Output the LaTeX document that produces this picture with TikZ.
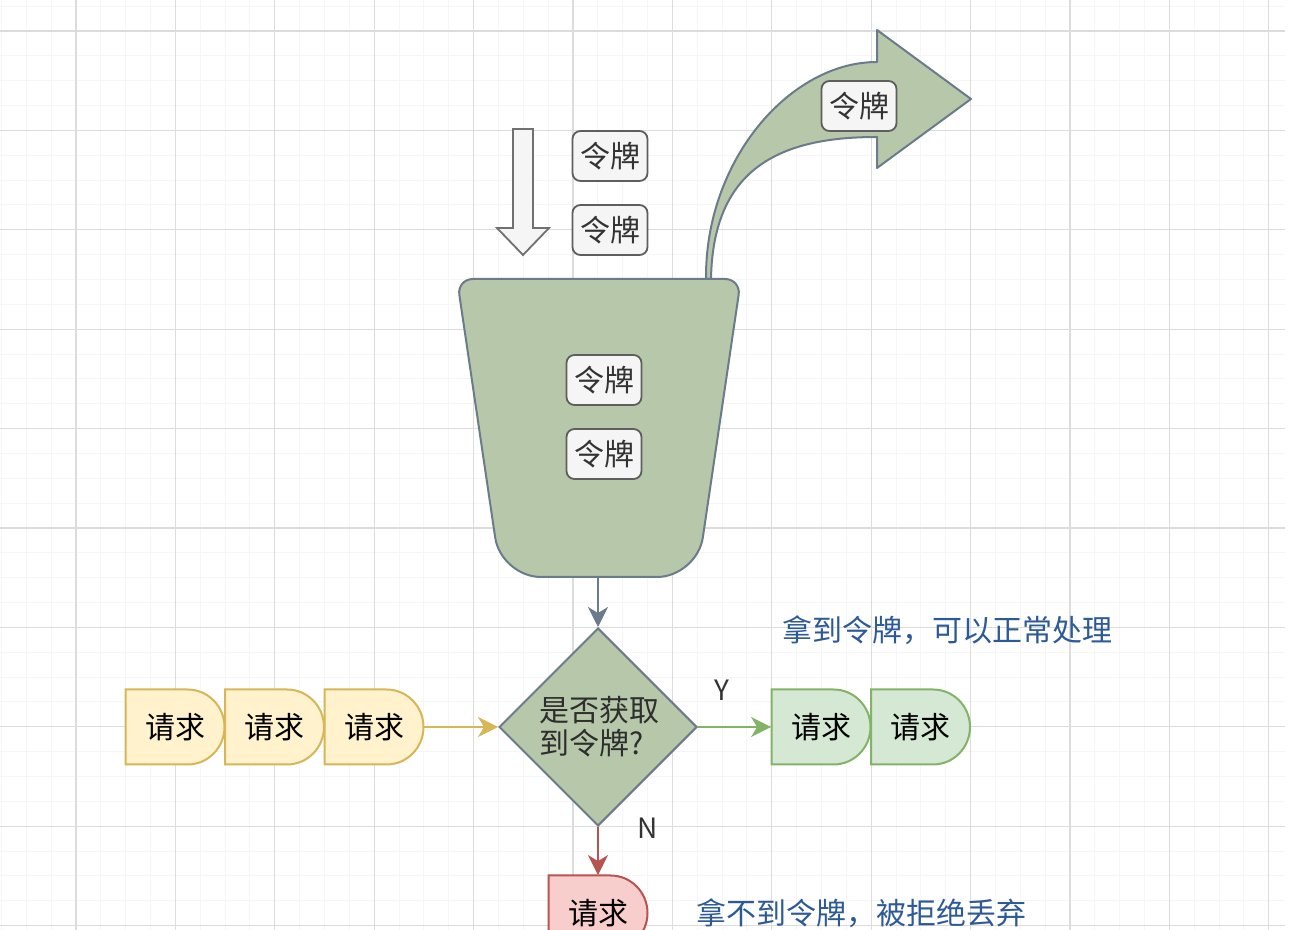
\documentclass[tikz,border=0pt]{standalone}
\usepackage{fontspec}
\newfontfamily\cjk{Noto Sans CJK SC}
\usetikzlibrary{arrows.meta,shapes.geometric}
\definecolor{gmaj}{HTML}{DCDCDC}
\definecolor{gmin}{HTML}{F6F6F6}
\definecolor{sage}{HTML}{B6C8A9}
\definecolor{slate}{HTML}{6C7B8B}
\definecolor{tokfill}{HTML}{F5F5F5}
\definecolor{tokdraw}{HTML}{5E5E5E}
\definecolor{txt}{HTML}{333333}
\definecolor{yfill}{HTML}{FFF2CC}
\definecolor{ydraw}{HTML}{D6B656}
\definecolor{gfill}{HTML}{D5E8D4}
\definecolor{gdraw}{HTML}{82B366}
\definecolor{rfill}{HTML}{F8CECC}
\definecolor{rdraw}{HTML}{B85450}
\definecolor{blu}{HTML}{2D5A97}
\definecolor{darrow}{HTML}{707070}
\newcommand\reqshape[4]{%
  \draw[#4] (#2-49.5,#3-37.5) -- (#2+12.5,#3-37.5)
    arc[start angle=90,end angle=-90,x radius=18.5pt,y radius=18.75pt]
    -- (#2-49.5,#3+37.5) -- cycle;
  \node[reqtext] (#1) at (#2,#3) {请求};}
\begin{document}
\begin{tikzpicture}[x=0.5pt,y=-0.5pt,
  cjkf/.style={font=\cjk\fontsize{15}{16.5}\selectfont},
  token/.style={cjkf, draw=tokdraw, fill=tokfill, rounded corners=4pt, line width=0.9pt,
    minimum width=37.5pt, minimum height=25pt, inner sep=0pt, text=txt},
  reqtext/.style={cjkf, text=black, minimum width=49.5pt, minimum height=37.5pt, inner sep=0pt},
  reqY/.style={fill=yfill, draw=ydraw, line width=1pt},
  reqG/.style={fill=gfill, draw=gdraw, line width=1pt},
  reqR/.style={fill=rfill, draw=rdraw, line width=1pt},
  conn/.style={line width=1pt, -{Stealth[length=10pt,width=10pt,inset=3pt]}},
  note/.style={cjkf, text=blu, anchor=west, inner sep=0pt},
  yn/.style={font=\cjk\fontsize{14}{16}\selectfont, text=txt, inner sep=0pt},
  greenshape/.style={fill=sage, draw=slate, line width=1pt, line join=round}
]
\useasboundingbox (0,0) rectangle (1298,930);
\clip (0,0) rectangle (1298,930);
\fill[white] (0,0) rectangle (1298,930);
% grid
\foreach \i in {-3,...,48} \draw[gmin, line width=0.5pt] ({76+24.85*\i},0) -- ({76+24.85*\i},930);
\foreach \j in {-1,...,36} \draw[gmin, line width=0.5pt] (0,{31+24.85*\j}) -- (1285,{31+24.85*\j});
\foreach \k in {0,...,12} \draw[gmaj, line width=0.6pt] ({76+99.4*\k},0) -- ({76+99.4*\k},930);
\foreach \k in {0,...,9} \draw[gmaj, line width=0.6pt] (0,{31+99.4*\k}) -- (1285,{31+99.4*\k});

% curved outgoing arrow
\draw[greenshape] (706,279) .. controls (705,160) and (790,62) .. (877,62)
  -- (877,30) -- (971,99) -- (877,168) -- (877,137)
  .. controls (780,137) and (713,168) .. (711,279) -- cycle;

% bucket
\draw[greenshape] (599,279) -- (725,279) .. controls (733.8,279) and (739.95,286.1) .. (738.66,294.82)
  -- (702.84,537.44) .. controls (699.63,559.2) and (679,577) .. (657,577)
  -- (541,577) .. controls (519,577) and (498.37,559.2) .. (495.16,537.44)
  -- (459.34,294.82) .. controls (458.05,286.1) and (464.2,279) .. (473,279) -- cycle;
\coordinate (bucketbot) at (598,577);

% hollow down arrow
\draw[fill=tokfill, draw=darrow, line width=0.9pt, line join=miter]
  (513,129) -- (533,129) -- (533,228) -- (549,228) -- (523,255) -- (497,228) -- (513,228) -- cycle;

% tokens
\node[token] (t1) at (610,156) {令牌};
\node[token] (t2) at (610,230) {令牌};
\node[token] (t3) at (604,380) {令牌};
\node[token] (t4) at (604,454) {令牌};
\node[token] (t5) at (859,106) {令牌};

% decision
\node[diamond, aspect=1, fill=sage, draw=slate, line width=1pt, minimum width=99pt,
  minimum height=99pt, inner sep=0pt] (dia) at (598,727) {};
\node[cjkf, text=txt!90!black, align=left, inner sep=0pt] (diatext) at (599,727) {是否获取\\到令牌?};

% requests
\reqshape{r1}{175}{727}{reqY}
\reqshape{r2}{274.5}{727}{reqY}
\reqshape{r3}{374}{727}{reqY}
\reqshape{g1}{821}{727}{reqG}
\reqshape{g2}{920.5}{727}{reqG}
\reqshape{x1}{598}{913}{reqR}

% connectors
\draw[conn, slate] (bucketbot) -- (dia.north);
\draw[conn, ydraw] (r3.east) -- (dia.west);
\draw[conn, gdraw] (dia.east) -- (g1.west);
\draw[conn, rdraw] (dia.south) -- (x1.north);

% labels
\node[yn] (ylab) at (722,690) {Y};
\node[yn] (nlab) at (648,828) {N};
\node[note] (ok) at (782,630) {拿到令牌，可以正常处理};
\node[note] (no) at (696,913) {拿不到令牌，被拒绝丢弃};
\end{tikzpicture}
\end{document}
